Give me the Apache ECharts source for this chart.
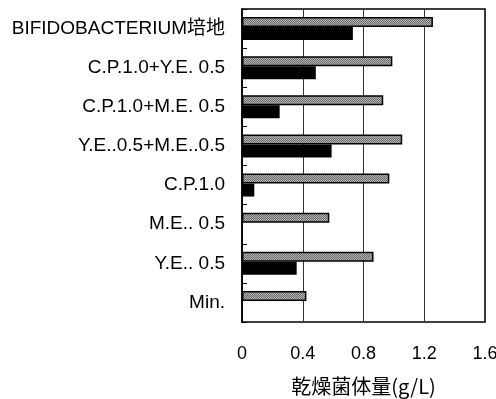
<!DOCTYPE html>
<html><head><meta charset="utf-8">
<script src="https://cdn.jsdelivr.net/npm/echarts@6/dist/echarts.min.js"></script>
<style>html,body{margin:0;padding:0;background:#fff}#c{width:496px;height:399px}</style>
</head><body><div id="c"></div>
<script>
const categories = ['BIFIDOBACTERIUM培地','C.P.1.0+Y.E. 0.5','C.P.1.0+M.E. 0.5','Y.E..0.5+M.E..0.5','C.P.1.0','M.E.. 0.5','Y.E.. 0.5','Min.'];
const hatchedValues = [1.257, 0.99, 0.93, 1.055, 0.97, 0.575, 0.866, 0.424];
const blackValues = [0.73, 0.486, 0.248, 0.59, 0.081, 0, 0.36, 0];
const xTicks = [0, 0.4, 0.8, 1.2, 1.6];

const pc = document.createElement('canvas');
pc.width = 2; pc.height = 2;
const g = pc.getContext('2d');
g.fillStyle = '#b4b4b4'; g.fillRect(0,0,2,2);
g.fillStyle = '#6a6a6a';
g.fillRect(0,0,1,1); g.fillRect(1,1,1,1);

const chart = echarts.init(document.getElementById('c'));
chart.setOption({
  animation: false,
  grid: {left: 242, right: 11, top: 9, bottom: 77, show: true, borderColor: '#000', borderWidth: 1.5,
         containLabel: false, outerBoundsMode: 'none'},
  xAxis: {
    type: 'value', min: 0, max: 1.6, interval: 0.4,
    name: '乾燥菌体量(g/L)', nameLocation: 'middle', nameGap: 54,
    nameTextStyle: {fontSize: 20, color: '#000', fontFamily: 'Noto Sans CJK SC'},
    axisLine: {show: false}, axisTick: {show: false},
    axisLabel: {fontSize: 18, color: '#000', margin: 23, fontFamily: 'Liberation Sans',
      formatter: v => { const t = xTicks.find(x => Math.abs(x - v) < 1e-6); return t === undefined ? '' : String(t); }},
    splitLine: {show: true, lineStyle: {color: '#333', width: 1}}
  },
  yAxis: {
    type: 'category', data: categories, inverse: true,
    axisLine: {show: true, lineStyle: {color: '#000', width: 1.5}},
    axisTick: {show: true, inside: true, length: 5, lineStyle: {color: '#000'}},
    axisLabel: {fontSize: 19, color: '#000', margin: 17, fontFamily: 'Liberation Sans, Noto Sans CJK SC'}
  },
  series: [
    {type: 'bar', data: hatchedValues, barWidth: 10, barGap: '0%',
     itemStyle: {color: {image: pc, repeat: 'repeat'}, borderColor: '#000', borderWidth: 1.5}},
    {type: 'bar', data: blackValues, barWidth: 13, barGap: '0%',
     itemStyle: {color: '#000'}}
  ]
});
</script></body></html>
